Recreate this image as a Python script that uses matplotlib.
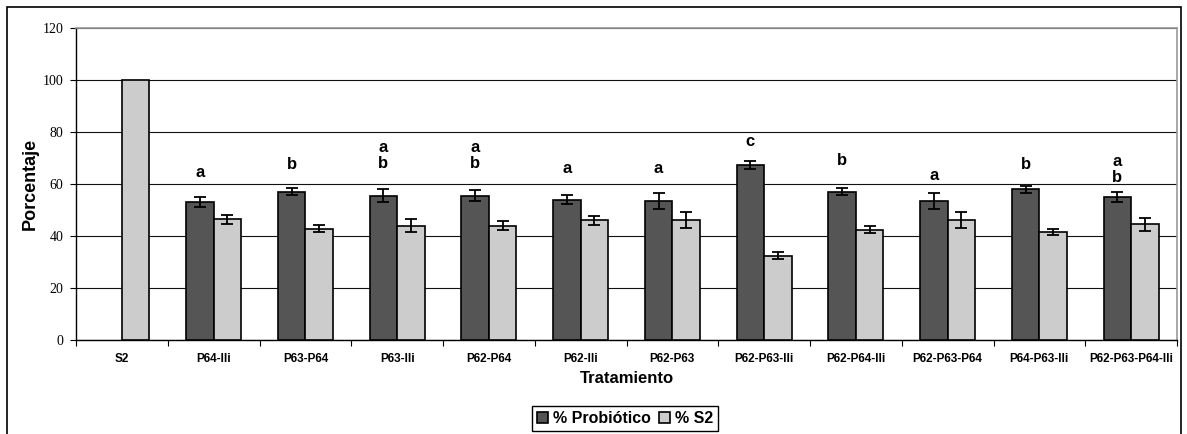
import numpy as np
import matplotlib.pyplot as plt
from matplotlib.patches import Rectangle

plt.rcParams["font.family"] = ["Liberation Sans", "DejaVu Sans"]

categories = ["S2", "P64-Ili", "P63-P64", "P63-Ili", "P62-P64", "P62-Ili",
              "P62-P63", "P62-P63-Ili", "P62-P64-Ili", "P62-P63-P64",
              "P64-P63-Ili", "P62-P63-P64-Ili"]
probiotico = [np.nan, 53.1, 57.0, 55.5, 55.5, 54.0, 53.6, 67.2, 57.0, 53.6, 57.9, 55.0]
probiotico_err = [np.nan, 1.8, 1.3, 2.5, 2.1, 1.85, 3.1, 1.5, 1.4, 3.1, 1.35, 2.05]
s2 = [100.0, 46.4, 42.8, 44.0, 44.0, 46.0, 46.0, 32.4, 42.4, 46.0, 41.4, 44.5]
s2_err = [np.nan, 1.8, 1.35, 2.6, 1.8, 1.8, 3.1, 1.3, 1.35, 3.1, 1.2, 2.4]

letters = ["", "a", "b", "a\nb", "a\nb", "a", "a", "c", "b", "a", "b", "a\nb"]
letter_y = [np.nan, 64.3, 67.5, 71.0, 71.0, 65.9, 65.9, 76.3, 69.1, 63.2, 67.5, 65.5]

fig = plt.figure(figsize=(11.87, 4.34), dpi=100)
ax = fig.add_axes([76 / 1187, 1 - 340 / 434, (1177 - 76) / 1187, (340 - 28) / 434])

x = np.arange(len(categories))
w = 0.3
err_style = dict(ecolor="black", elinewidth=1.3, capsize=4, capthick=1.3, zorder=4)
ax.bar(x - w / 2, probiotico, w, yerr=probiotico_err, color="#555555",
       edgecolor="black", linewidth=1.2, error_kw=err_style, label="% Probiótico", zorder=3)
ax.bar(x + w / 2, s2, w, yerr=s2_err, color="#cccccc",
       edgecolor="black", linewidth=1.2, error_kw=err_style, label="% S2", zorder=3)

for xi, txt, yi in zip(x, letters, letter_y):
    if txt:
        ax.text(xi - w / 2, yi, txt, ha="center", va="center", fontsize=12,
                fontweight="bold", linespacing=1.1)

ax.set_xlim(-0.5, len(categories) - 0.5)
ax.set_ylim(0, 120)
ax.set_yticks(np.arange(0, 121, 20))
ax.set_yticklabels([str(v) for v in range(0, 121, 20)], family="Liberation Serif", fontsize=10)
ax.yaxis.grid(True, color="#111111", linewidth=0.8)
ax.set_axisbelow(True)

ax.set_xticks(np.arange(-0.5, len(categories), 1))
ax.set_xticklabels([])
ax.set_xticks(x, minor=True)
ax.set_xticklabels(categories, minor=True, fontsize=8.5, fontweight="bold")
ax.tick_params(axis="x", which="minor", length=0, pad=9)
ax.tick_params(axis="x", which="major", length=4, direction="out")
ax.tick_params(axis="y", length=4, direction="out", pad=5)

for side in ["top", "right"]:
    ax.spines[side].set_color("#999999")
    ax.spines[side].set_linewidth(1.2)
for side in ["left", "bottom"]:
    ax.spines[side].set_color("black")
    ax.spines[side].set_linewidth(1)

ax.set_ylabel("Porcentaje", fontsize=13, fontweight="bold", labelpad=3)
ax.set_xlabel("Tratamiento", fontsize=12, fontweight="bold", labelpad=5)

leg = fig.legend(loc="center", bbox_to_anchor=(625 / 1187, 1 - 418.5 / 434), ncol=2,
                 fancybox=False, edgecolor="black", framealpha=1,
                 prop=dict(size=11.5, weight="bold"), handlelength=0.7, handleheight=0.7,
                 handletextpad=0.3, columnspacing=0.5, borderpad=0.3, borderaxespad=0)
leg.get_frame().set_linewidth(1)

fig.patches.append(Rectangle((7 / 1187, -0.1), (1181 - 7) / 1187, 1.1 - 7 / 434,
                             transform=fig.transFigure, fill=False,
                             edgecolor="black", linewidth=1.2))

fig.savefig("out.png", dpi=100)
